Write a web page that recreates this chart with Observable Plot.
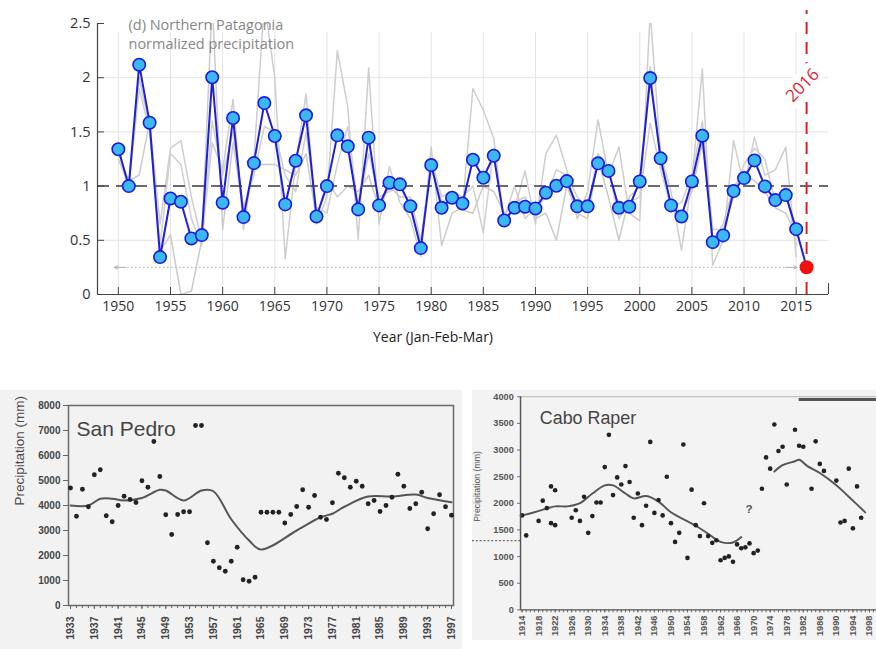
<!DOCTYPE html>
<html><head><meta charset="utf-8">
<script src="https://cdn.jsdelivr.net/npm/d3@7"></script>
<script src="https://cdn.jsdelivr.net/npm/@observablehq/plot@0.6"></script>
<style>
html,body{margin:0;padding:0;background:#fff;width:876px;height:649px;overflow:hidden;position:relative;}
#top{position:absolute;left:0;top:0;}
#sp{position:absolute;left:0;top:390px;}
#cr{position:absolute;left:472px;top:390px;}
svg{overflow:visible}
</style></head><body>
<div id="top"></div><div id="sp"></div><div id="cr"></div>
<script>
// ---------- (d) Northern Patagonia normalized precipitation ----------
const years = [1950,1951,1952,1953,1954,1955,1956,1957,1958,1959,1960,1961,1962,1963,1964,1965,1966,1967,1968,1969,
  1970,1971,1972,1973,1974,1975,1976,1977,1978,1979,1980,1981,1982,1983,1984,1985,1986,1987,1988,1989,
  1990,1991,1992,1993,1994,1995,1996,1997,1998,1999,2000,2001,2002,2003,2004,2005,2006,2007,2008,2009,
  2010,2011,2012,2013,2014,2015];
const blue = [1.34,1.00,2.12,1.585,0.345,0.886,0.856,0.517,0.548,2.004,0.847,1.628,0.714,1.212,1.766,1.462,0.831,1.234,1.653,0.72,
  1.00,1.468,1.367,0.785,1.447,0.822,1.031,1.016,0.815,0.428,1.194,0.80,0.893,0.84,1.243,1.077,1.28,0.683,0.80,0.81,
  0.794,0.939,1.003,1.046,0.813,0.813,1.21,1.14,0.80,0.81,1.043,1.997,1.256,0.822,0.72,1.043,1.465,0.483,0.545,0.954,
  1.074,1.237,0.997,0.871,0.917,0.603];
const grey1 = [1.30,1.05,1.10,1.60,0.65,1.35,1.42,0.90,0.50,1.40,1.15,1.80,0.60,1.25,2.70,2.00,0.33,1.20,1.85,0.65,
  0.90,2.25,1.73,0.51,2.09,0.65,1.18,0.85,0.70,0.35,1.36,0.45,0.75,0.80,1.90,1.70,1.44,0.65,0.80,1.14,
  0.65,1.30,1.47,1.15,0.70,0.95,1.61,1.10,1.36,0.75,0.68,2.60,1.30,0.95,0.41,1.05,2.08,0.27,0.50,1.42,
  1.00,1.45,1.10,1.15,1.36,0.35];
const grey2 = [1.25,1.00,1.90,1.50,0.45,1.30,1.20,0.70,0.45,1.60,1.10,1.50,0.80,1.10,1.55,1.50,1.10,0.95,1.50,0.80,
  0.75,1.20,1.55,0.80,1.30,0.90,0.95,1.00,0.80,0.45,1.25,0.90,0.95,0.90,1.00,0.57,1.35,0.70,1.00,0.70,
  0.80,0.90,1.15,1.10,0.90,0.80,1.30,1.15,0.70,0.85,0.90,1.58,1.15,0.80,0.85,1.10,1.60,0.60,0.60,0.90,
  1.20,1.35,1.25,0.85,1.00,0.45];
const grey3 = [1.35,0.98,2.00,1.55,0.40,0.55,0.00,0.03,0.50,2.70,0.60,1.40,0.75,1.20,1.20,1.20,1.15,1.10,1.30,0.70,
  1.05,0.90,1.00,0.95,1.10,0.80,1.00,0.90,0.90,0.50,1.20,0.85,0.90,0.78,0.75,1.00,0.95,0.75,0.85,0.90,
  0.70,0.75,0.50,1.00,0.75,0.70,1.25,0.90,0.50,0.90,1.00,2.10,1.20,0.85,0.75,0.95,1.40,0.50,0.65,1.00,
  1.10,1.05,0.95,0.80,0.75,0.55];
const year2016 = 2016, value2016 = 0.252;
const topXTicks = [1950,1955,1960,1965,1970,1975,1980,1985,1990,1995,2000,2005,2010,2015];
const topYTicks = [0,0.5,1,1.5,2,2.5];

const rows = years.map((y,i)=>({year:y, blue:blue[i], g1:grey1[i], g2:grey2[i], g3:grey3[i]}));
const tail = [{year:2015, v:blue[blue.length-1]},{year:year2016, v:value2016}];

const topPlot = Plot.plot({
  width: 876, height: 360,
  marginLeft: 97, marginRight: 48, marginTop: 23, marginBottom: 66,
  style: {fontFamily: "'Open Sans', sans-serif", fontSize: "14px", color: "#333", background: "transparent", overflow: "visible"},
  x: {domain: [1948, 2018.1]},
  y: {domain: [0, 2.5]},
  marks: [
    Plot.ruleX(topXTicks, {stroke: "#e4e4e4", strokeWidth: 1, insetTop: 9}),
    Plot.ruleY([0.5,1.5,2], {stroke: "#e4e4e4", strokeWidth: 1}),
    Plot.line(rows, {x: "year", y: "g1", stroke: "#cecece", strokeWidth: 1.5, clip: true}),
    Plot.line(rows, {x: "year", y: "g2", stroke: "#d0d0d0", strokeWidth: 1.5, clip: true}),
    Plot.line(rows, {x: "year", y: "g3", stroke: "#cbcbcb", strokeWidth: 1.5, clip: true}),
    Plot.text(["(d) Northern Patagonia"], {text: d=>d, frameAnchor: "top-left", dx: 31, dy: 2, textAnchor: "start", lineAnchor: "middle", fill: "#878787", fontSize: 14.5}),
    Plot.text(["normalized precipitation"], {text: d=>d, frameAnchor: "top-left", dx: 31, dy: 21, textAnchor: "start", lineAnchor: "middle", fill: "#878787", fontSize: 14.5}),
    Plot.ruleY([1], {stroke: "#6b6b6b", strokeWidth: 2, strokeDasharray: "12,7"}),
    Plot.ruleY([0.25], {x1: 1949.7, x2: 2015.1, stroke: "#bdbdbd", strokeWidth: 1, strokeDasharray: "2,2"}),
    Plot.arrow([{a:1950.7, b:1949.6},{a:2014.0, b:2015.1}], {x1: "a", x2: "b", y1: () => 0.25, y2: () => 0.25, stroke: "#b5b5b5", strokeWidth: 1, headLength: 10, headAngle: 50}),
    Plot.line(tail, {x: "year", y: "v", stroke: "#1f1fd6", strokeWidth: 2}),
    Plot.line(rows, {x: "year", y: "blue", stroke: "#1f1fd6", strokeWidth: 2}),
    Plot.dot(rows, {x: "year", y: "blue", r: 6.2, fill: "#3cb8f0", stroke: "#1a1ae0", strokeWidth: 1.6}),
    Plot.ruleX([year2016], {y1: 0, y2: 2.62, stroke: "#d9232a", strokeWidth: 2, strokeDasharray: "12,8"}),
    Plot.text([{x: year2016, y: 1.93, t: "2016"}], {x: "x", y: "y", text: "t", rotate: -45, dx: -4, fill: "#e0262d", stroke: "white", strokeWidth: 12, fontSize: 17}),
    Plot.dot([{x: year2016, y: value2016}], {x: "x", y: "y", r: 7, fill: "#f01010"}),
    Plot.ruleY([0], {stroke: "#444", strokeWidth: 1.2}),
    Plot.ruleX([1948], {stroke: "#444", strokeWidth: 1.2}),
    Plot.ruleX(topXTicks, {stroke: "#444", insetTop: 264}),
    Plot.ruleX([2018.1], {stroke: "#444", insetTop: 260}),
    Plot.ruleY(topYTicks, {stroke: "#444", insetRight: 724}),
    Plot.axisX({ticks: topXTicks, tickSize: 0, tickPadding: 7, tickFormat: d => String(d), label: null, fontSize: 14, fill: "#333"}),
    Plot.axisY({ticks: topYTicks, tickSize: 0, tickPadding: 7, tickFormat: d => String(d), label: null, fontSize: 14.5, fill: "#333"}),
    Plot.text(["Year (Jan-Feb-Mar)"], {text: d=>d, frameAnchor: "bottom", dx: -30, dy: 47, fontSize: 14, fill: "#222"})
  ]
});
document.getElementById("top").appendChild(topPlot);

// ---------- San Pedro ----------
const spYears = [1933,1934,1935,1936,1937,1938,1939,1940,1941,1942,1943,1944,1945,1946,1947,1948,1949,1950,1951,1952,
  1953,1954,1955,1956,1957,1958,1959,1960,1961,1962,1963,1964,1965,1966,1967,1968,1969,1970,1971,1972,
  1973,1974,1975,1976,1977,1978,1979,1980,1981,1982,1983,1984,1985,1986,1987,1988,1989,1990,1991,1992,
  1993,1994,1995,1996,1997];
const spPrecip = [4700,3570,4650,3950,5230,5430,3590,3350,4000,4370,4240,4120,4990,4730,6560,5160,3630,2840,3640,3750,
  3750,7200,7200,2510,1770,1510,1370,1770,2330,1030,970,1130,3730,3730,3730,3730,3300,3640,3960,4630,
  3930,4400,3530,3440,4110,5290,5110,4730,4970,4770,4070,4200,3760,4000,4330,5250,4770,3880,4070,4530,
  3070,3670,4430,3950,3610];
const spSmoothYears = [1933,1936,1938,1940,1942,1945,1948,1949,1952,1955,1957,1960,1963,1965,1971,1975,1977,1979,1983,1987,1991,1993,1997];
const spSmooth = [4000,4000,4270,4270,4200,4300,4630,4600,4200,4600,4570,3450,2600,2240,3000,3530,3670,3950,4360,4360,4440,4300,4130];
const spLabelTicks = [1933,1937,1941,1945,1949,1953,1957,1961,1965,1969,1973,1977,1981,1985,1989,1993,1997];
const spYTicks = [0,1000,2000,3000,4000,5000,6000,7000,8000];

const spDots = spYears.map((y,i)=>({year:y, p:spPrecip[i]}));
const spLine = spSmoothYears.map((y,i)=>({year:y, p:spSmooth[i]}));

const spPlot = Plot.plot({
  width: 462, height: 259,
  marginLeft: 68, marginRight: 9, marginTop: 15, marginBottom: 44,
  style: {fontFamily: "'Liberation Sans', Arial, sans-serif", fontSize: "10px", color: "#333", background: "#f2f2f2", overflow: "visible"},
  x: {domain: [1932.66, 1997.34]},
  y: {domain: [0, 8000]},
  marks: [
    Plot.frame({stroke: "#6a6a6a", strokeWidth: 1.5}),
    Plot.line(spLine, {x: "year", y: "p", stroke: "#555", strokeWidth: 2, curve: "catmull-rom"}),
    Plot.dot(spDots, {x: "year", y: "p", r: 2.4, fill: "#222"}),
    Plot.axisY({ticks: spYTicks, tickSize: 5, tickPadding: 3, tickFormat: d => String(d), label: null, fontSize: 10, fontWeight: "bold", fill: "#444", stroke: "#666"}),
    Plot.axisX({ticks: spYears, tickSize: 3, tickFormat: () => "", label: null, stroke: "#666"}),
    Plot.axisX({ticks: spLabelTicks, tickSize: 4, tickPadding: 7, tickRotate: -90, tickFormat: d => String(d), label: null, fontSize: 10.5, fontWeight: "bold", fill: "#444", stroke: "#666"}),
    Plot.text(["Precipitation (mm)"], {text: d=>d, frameAnchor: "left", dx: -49, rotate: -90, fontSize: 13.5, fill: "#4a4a4a"}),
    Plot.text(["San Pedro"], {text: d=>d, frameAnchor: "top-left", dx: 8, dy: 30, textAnchor: "start", lineAnchor: "bottom", fontSize: 21, fill: "#444"})
  ]
});
document.getElementById("sp").appendChild(spPlot);

// ---------- Cabo Raper ----------
const crYears = [1914,1915,1918,1919,1920,1921,1921,1922,1922,1926,1927,1928,1929,1930,1931,1932,1933,1934,1935,1936,
  1937,1938,1939,1940,1941,1942,1943,1944,1945,1946,1947,1948,1949,1950,1951,1952,1953,1954,1955,1956,
  1957,1958,1959,1960,1961,1962,1963,1964,1965,1966,1967,1968,1969,1970,1971,1972,1973,1974,1975,1976,
  1977,1978,1980,1981,1982,1984,1985,1986,1987,1990,1991,1992,1993,1994,1995,1996];
const crPrecip = [1773,1397,1670,2050,1911,2317,1627,2245,1590,1730,1870,1670,2123,1446,1760,2015,2015,2680,3285,2154,
  2486,2354,2699,2401,1730,2184,1590,1955,3152,1820,2063,1773,2499,1627,1276,1446,3103,975,2256,1590,
  1385,2002,1385,1258,1307,931,975,1004,902,1229,1156,1174,1247,1065,1113,2274,2862,2650,3479,2982,
  3061,2354,3381,3080,3061,2274,3163,2740,2608,2426,1639,1670,2650,1530,2317,1730];
const crSmooth1Years = [1914,1917,1922,1925,1928,1931,1934,1936,1939,1941,1944,1947,1950,1956,1959,1962,1965,1967];
const crSmooth1 = [1773,1833,1942,1942,2002,2184,2336,2336,2184,2093,2136,2033,1833,1579,1428,1276,1265,1367];
const crSmooth2Years = [1975,1977,1980,1981,1983,1986,1990,1993,1997];
const crSmooth2 = [2595,2716,2790,2819,2699,2570,2340,2123,1830];
const crLabelTicks = [1914,1918,1922,1926,1930,1934,1938,1942,1946,1950,1954,1958,1962,1966,1970,1974,1978,1982,1986,1990,1994,1998];
const crMinorTicks = [];
for (let y = 1914; y <= 1999; y++) crMinorTicks.push(y);
const crYTicks = [0,500,1000,1500,2000,2500,3000,3500,4000];

const crDots = crYears.map((y,i)=>({year:y, p:crPrecip[i]}));
const crLine = crSmooth1Years.map((y,i)=>({year:y, p:crSmooth1[i], seg:1}))
  .concat(crSmooth2Years.map((y,i)=>({year:y, p:crSmooth2[i], seg:2})));
const crLeft = 1913.63;

const crPlot = Plot.plot({
  width: 418, height: 259,
  marginLeft: 49.7, marginRight: 0, marginTop: 6.5, marginBottom: 32,
  style: {fontFamily: "'Liberation Sans', Arial, sans-serif", fontSize: "10px", color: "#333", background: "#f3f3f3", overflow: "visible"},
  x: {domain: [crLeft, 1999.7]},
  y: {domain: [0, 4000]},
  marks: [
    Plot.ruleY([4000], {stroke: "#b0b0b0", strokeWidth: 1}),
    Plot.ruleY([3950], {x1: 1981.0, x2: 1999.7, stroke: "#555", strokeWidth: 3}),
    Plot.ruleY([1300], {x1: 1902, x2: crLeft, stroke: "#666", strokeWidth: 1.2, strokeDasharray: "2,2"}),
    Plot.line(crLine, {x: "year", y: "p", z: "seg", stroke: "#555", strokeWidth: 2, curve: "catmull-rom"}),
    Plot.dot(crDots, {x: "year", y: "p", r: 2.4, fill: "#222"}),
    Plot.text([{x: 1968.9, y: 1890, t: "?"}], {x: "x", y: "y", text: "t", fontSize: 12, fontWeight: "bold", fill: "#555"}),
    Plot.ruleX([crLeft], {stroke: "#555", strokeWidth: 1.5}),
    Plot.ruleY([0], {stroke: "#555", strokeWidth: 1.5}),
    Plot.axisY({ticks: crYTicks, tickSize: 3, tickPadding: 4, tickFormat: d => String(d), label: null, fontSize: 9.5, fontWeight: "bold", fill: "#555", stroke: "#666"}),
    Plot.axisX({ticks: crMinorTicks, tickSize: 3, tickFormat: () => "", label: null, stroke: "#666"}),
    Plot.axisX({ticks: crLabelTicks, tickSize: 3, tickPadding: 3, tickRotate: -90, tickFormat: d => String(d), label: null, fontSize: 9.5, fontWeight: "bold", fill: "#555", stroke: "#666"}),
    Plot.text(["Precipitation (mm)"], {text: d=>d, frameAnchor: "left", dx: -44.7, dy: 19, rotate: -90, fontSize: 9, fill: "#555"}),
    Plot.text(["Cabo Raper"], {text: d=>d, frameAnchor: "top-left", dx: 20, dy: 28.5, textAnchor: "start", lineAnchor: "bottom", fontSize: 18.5, fill: "#444"})
  ]
});
document.getElementById("cr").appendChild(crPlot);
</script>
</body></html>
